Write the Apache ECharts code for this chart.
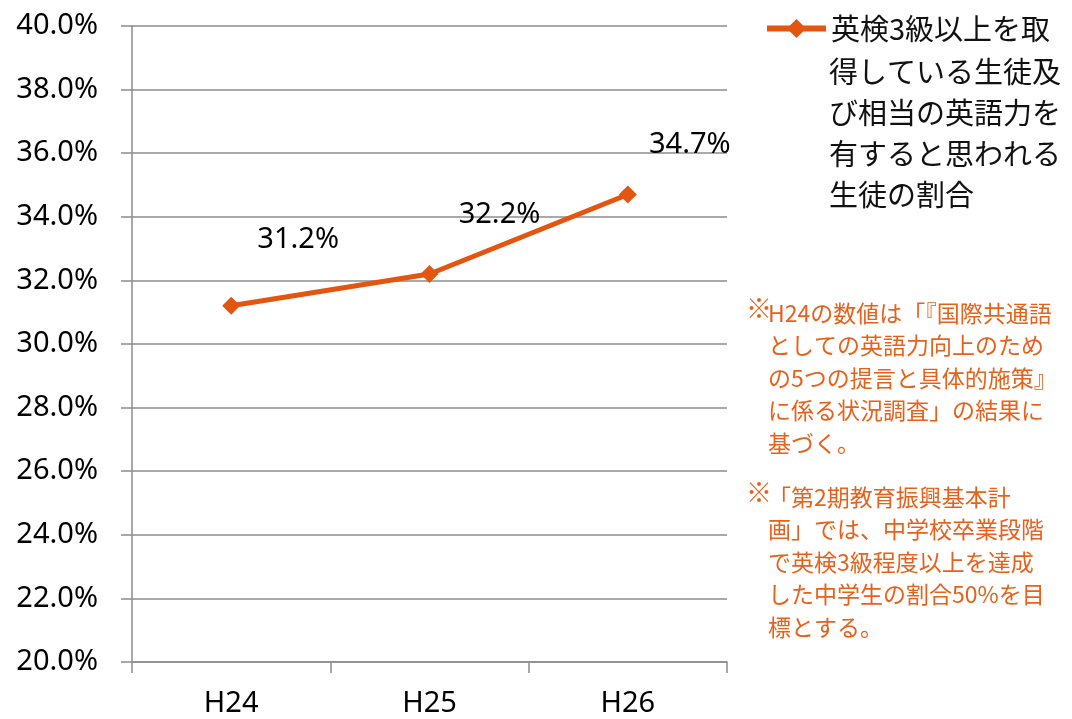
<!DOCTYPE html>
<html>
<head>
<meta charset="utf-8">
<script src="https://cdn.jsdelivr.net/npm/echarts@6/dist/echarts.min.js"></script>
<style>
  html, body { margin: 0; padding: 0; background: #fff; }
  #chart { width: 1072px; height: 719px; }
</style>
</head>
<body>
<div id="chart"></div>
<script>
// 年度別の割合（%）
const categories = ['H24', 'H25', 'H26'];
const rates = [31.2, 32.2, 34.7];
const seriesLines = ['英検3級以上を取', '得している生徒及', 'び相当の英語力を', '有すると思われる', '生徒の割合'];
const noteOne = 'H24の数値は「『国際共通語\nとしての英語力向上のため\nの5つの提言と具体的施策』\nに係る状況調査」の結果に\n基づく。';
const noteTwo = '「第2期教育振興基本計\n画」では、中学校卒業段階\nで英検3級程度以上を達成\nした中学生の割合50%を目\n標とする。';

const seriesName = seriesLines.join('');

// ラベルの表示位置（点からのずれ）
const labelShift = [[67, -66], [70, -59], [62, -50]];

const ORANGE = '#E2560F';
const NOTE = '#E8611A';
const GRID = '#8c8c8c';
const LATIN = '"Noto Sans", "Open Sans", sans-serif';
const CJK = '"Noto Sans CJK JP", "Noto Sans", sans-serif';

const chart = echarts.init(document.getElementById('chart'));

chart.setOption({
  animation: false,
  backgroundColor: '#fff',
  grid: { left: 132, right: 345, top: 26, bottom: 57, containLabel: false },
  xAxis: {
    type: 'category',
    data: categories,
    boundaryGap: true,
    axisLine: { lineStyle: { color: GRID, width: 1.5 } },
    axisTick: { show: true, length: 11, lineStyle: { color: GRID, width: 1.5 } },
    axisLabel: { color: '#000', fontFamily: LATIN, fontSize: 29, margin: 27 },
    splitLine: { show: false }
  },
  yAxis: {
    type: 'value',
    min: 20,
    max: 40,
    interval: 2,
    axisLine: { show: true, lineStyle: { color: GRID, width: 1.5 } },
    axisTick: { show: true, length: 11, lineStyle: { color: GRID, width: 1.5 } },
    axisLabel: {
      color: '#000', fontFamily: LATIN, fontSize: 29, margin: 34,
      formatter: v => v.toFixed(1) + '%'
    },
    splitLine: { show: true, lineStyle: { color: GRID, width: 1.5 } }
  },
  legend: {
    orient: 'vertical',
    left: 764,
    top: 8,
    padding: 0,
    itemWidth: 59,
    itemHeight: 24,
    itemGap: 6,
    data: [{ name: seriesName }],
    lineStyle: { width: 6 },
    formatter: () => seriesLines[0],
    textStyle: { color: '#111', fontFamily: CJK, fontSize: 29, lineHeight: 41 }
  },
  series: [{
    name: seriesName,
    type: 'line',
    data: rates.map((v, i) => ({
      value: v,
      label: { offset: labelShift[i] }
    })),
    lineStyle: { color: ORANGE, width: 5 },
    itemStyle: { color: ORANGE },
    symbol: 'diamond',
    symbolSize: 18,
    label: {
      show: true,
      position: 'inside',
      color: '#000',
      fontFamily: LATIN,
      fontSize: 29,
      formatter: p => p.value.toFixed(1) + '%'
    }
  }],
  graphic: [
    // 凡例の続きの行
    { type: 'text', left: 829, top: 51, style: { text: seriesLines.slice(1).join('\n'), fill: '#111', font: '29px ' + CJK, lineHeight: 41 } },
    { type: 'text', left: 746, top: 295, style: { text: '※', fill: NOTE, font: '26px ' + CJK } },
    { type: 'text', left: 768, top: 297, style: { text: noteOne, fill: NOTE, font: '23px ' + CJK, lineHeight: 32.5 } },
    { type: 'text', left: 746, top: 479, style: { text: '※', fill: NOTE, font: '26px ' + CJK } },
    { type: 'text', left: 768, top: 481, style: { text: noteTwo, fill: NOTE, font: '23px ' + CJK, lineHeight: 32.5 } }
  ]
});
</script>
</body>
</html>
